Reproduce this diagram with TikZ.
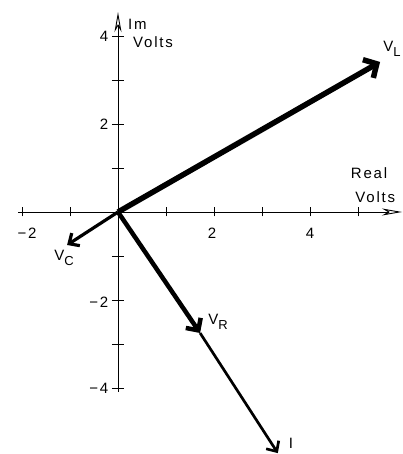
\documentclass[tikz,border=0pt]{standalone}
\usepackage{fontspec}
\setmainfont[LetterSpace=12]{Liberation Sans}
\usetikzlibrary{arrows.meta}
\newcommand{\vsub}[2]{#1\raisebox{-5pt}{\fontsize{13}{13}\selectfont #2}}

\begin{document}
\begin{tikzpicture}[x=48pt, y=44pt, font=\fontsize{15}{17}\selectfont,
  axis/.style={line width=0.9pt, -{Stealth[open, length=20pt, width=7pt, inset=6pt]}},
  tick/.style={line width=0.9pt},
  phasor/.style={line cap=butt}]
\useasboundingbox (-2.4583,-5.5) rectangle (5.9375,4.8182);

% Axes
\coordinate (O) at (0,0);
\coordinate (xmin) at (-2.083,0);
\coordinate (xmax) at (5.917,0);
\coordinate (ymin) at (0,-4.09);
\coordinate (ymax) at (0,4.545);
\draw[axis] (xmin) -- (xmax);
\draw[axis] (ymin) -- (ymax);

% Ticks on the real axis
\draw[tick] (-2,0) ++(0,-4.5pt) -- ++(0,9pt);
\draw[tick] (-1,0) ++(0,-4.5pt) -- ++(0,9pt);
\draw[tick] (1,0) ++(0,-4.5pt) -- ++(0,9pt);
\draw[tick] (2,0) ++(0,-4.5pt) -- ++(0,9pt);
\draw[tick] (3,0) ++(0,-4.5pt) -- ++(0,9pt);
\draw[tick] (4,0) ++(0,-4.5pt) -- ++(0,9pt);
\draw[tick] (5,0) ++(0,-4.5pt) -- ++(0,9pt);

% Ticks on the imaginary axis
\draw[tick] (0,4) ++(-6pt,0) -- ++(12pt,0);
\draw[tick] (0,3) ++(-6pt,0) -- ++(12pt,0);
\draw[tick] (0,2) ++(-6pt,0) -- ++(12pt,0);
\draw[tick] (0,1) ++(-6pt,0) -- ++(12pt,0);
\draw[tick] (0,-1) ++(-6pt,0) -- ++(12pt,0);
\draw[tick] (0,-2) ++(-6pt,0) -- ++(12pt,0);
\draw[tick] (0,-3) ++(-6pt,0) -- ++(12pt,0);
\draw[tick] (0,-4) ++(-6pt,0) -- ++(12pt,0);

% Tick labels
\node (xl-2) at (-1.896,-0.477) {−2};
\node (xl2) at (1.958,-0.477) {2};
\node (xl4) at (4.0,-0.477) {4};
\node[anchor=east, inner sep=0pt] (yl4) at (-0.2,4) {4};
\node[anchor=east, inner sep=0pt] (yl2) at (-0.2,2) {2};
\node[anchor=east, inner sep=0pt] (yl-2) at (-0.2,-2.05) {−2};
\node[anchor=east, inner sep=0pt] (yl-4) at (-0.2,-4) {−4};

% Axis names
\node[anchor=west, inner sep=0pt] (imname) at (0.208,4.273) {Im};
\node[anchor=west, inner sep=0pt] (imunit) at (0.3125,3.864) {Volts};
\node (rename) at (5.229,0.886) {Real};
\node (reunit) at (5.36,0.341) {Volts};

% Phasors
\coordinate (VL) at (5.46,3.41);
\coordinate (VC) at (-1.06,-0.75);
\coordinate (VR) at (1.71,-2.75);
\coordinate (I) at (3.33,-5.48);
\draw[phasor, line width=5.5pt, -{Straight Barb[length=10pt, width=21pt]}] (O) -- (VL);
\draw[phasor, line width=3.2pt, -{Straight Barb[length=8pt, width=15pt]}] (O) -- (VC);
\draw[phasor, line width=2.7pt, -{Straight Barb[length=8pt, width=15pt]}] (VR) -- (I);
\draw[phasor, line width=4.5pt, -{Straight Barb[length=9pt, width=18pt]}] (O) -- (VR);

% Phasor labels
\node (lVL) at (5.708,3.705) {\vsub{V}{L}};
\node (lVC) at (-1.125,-1.045) {\vsub{V}{C}};
\node (lVR) at (2.083,-2.5) {\vsub{V}{R}};
\node (lI) at (3.604,-5.25) {I};
\end{tikzpicture}
\end{document}
